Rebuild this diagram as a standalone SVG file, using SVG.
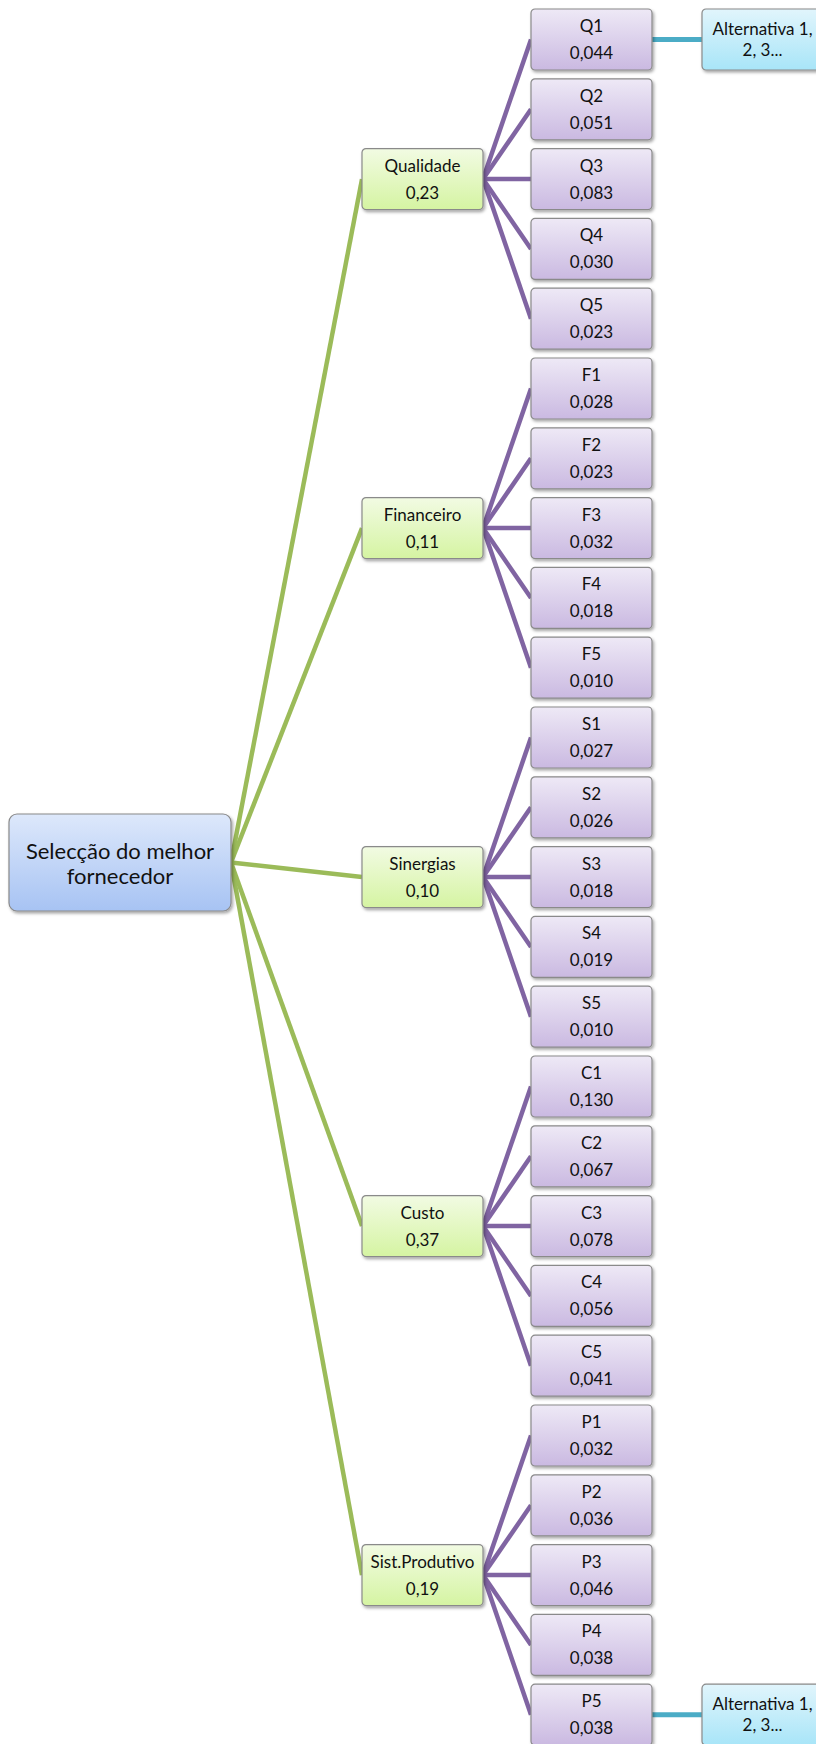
<svg xmlns="http://www.w3.org/2000/svg" width="816" height="1744" viewBox="0 0 816 1744">
<defs>
<linearGradient id="gBlue" x1="0" y1="0" x2="0" y2="1"><stop offset="0" stop-color="#dde8fb"/><stop offset="1" stop-color="#a7c3f3"/></linearGradient>
<linearGradient id="gGreen" x1="0" y1="0" x2="0" y2="1"><stop offset="0" stop-color="#f2fbe3"/><stop offset="1" stop-color="#d5f4a2"/></linearGradient>
<linearGradient id="gPurple" x1="0" y1="0" x2="0" y2="1"><stop offset="0" stop-color="#eee9f6"/><stop offset="1" stop-color="#cab9e1"/></linearGradient>
<linearGradient id="gAqua" x1="0" y1="0" x2="0" y2="1"><stop offset="0" stop-color="#e1f5fc"/><stop offset="1" stop-color="#a8e5f8"/></linearGradient>
<filter id="sh" x="-10%" y="-10%" width="130%" height="140%"><feDropShadow dx="1.5" dy="2" stdDeviation="1.5" flood-color="#000" flood-opacity="0.35"/></filter>
</defs>
<style>
.box{stroke:#8a8a8a;stroke-width:1.2;filter:url(#sh)}
.root{fill:url(#gBlue)}
.grn{fill:url(#gGreen)}
.pur{fill:url(#gPurple)}
.aq{fill:url(#gAqua)}
text{font-family:Lato,"Liberation Sans",sans-serif;fill:#111;text-anchor:middle}
.t{font-size:17px}
.tr{font-size:22px}
.lg{stroke:#9bbb59;stroke-width:4.5;fill:none}
.lp{stroke:#8064a2;stroke-width:4.5;fill:none}
.la{stroke:#4bacc6;stroke-width:5;fill:none}
</style>
<g id="connectors">
<line class="lg" x1="231" y1="862.5" x2="362" y2="179.1"/>
<line class="lg" x1="231" y1="862.5" x2="362" y2="528.1"/>
<line class="lg" x1="231" y1="862.5" x2="362" y2="877.1"/>
<line class="lg" x1="231" y1="862.5" x2="362" y2="1226.1"/>
<line class="lg" x1="231" y1="862.5" x2="362" y2="1575.1"/>
<line class="lp" x1="483" y1="179.1" x2="531" y2="39.5"/>
<line class="lp" x1="483" y1="179.1" x2="531" y2="109.3"/>
<line class="lp" x1="483" y1="179.1" x2="531" y2="179.1"/>
<line class="lp" x1="483" y1="179.1" x2="531" y2="248.9"/>
<line class="lp" x1="483" y1="179.1" x2="531" y2="318.7"/>
<line class="lp" x1="483" y1="528.1" x2="531" y2="388.5"/>
<line class="lp" x1="483" y1="528.1" x2="531" y2="458.3"/>
<line class="lp" x1="483" y1="528.1" x2="531" y2="528.1"/>
<line class="lp" x1="483" y1="528.1" x2="531" y2="597.9"/>
<line class="lp" x1="483" y1="528.1" x2="531" y2="667.7"/>
<line class="lp" x1="483" y1="877.1" x2="531" y2="737.5"/>
<line class="lp" x1="483" y1="877.1" x2="531" y2="807.3"/>
<line class="lp" x1="483" y1="877.1" x2="531" y2="877.1"/>
<line class="lp" x1="483" y1="877.1" x2="531" y2="946.9"/>
<line class="lp" x1="483" y1="877.1" x2="531" y2="1016.7"/>
<line class="lp" x1="483" y1="1226.1" x2="531" y2="1086.5"/>
<line class="lp" x1="483" y1="1226.1" x2="531" y2="1156.3"/>
<line class="lp" x1="483" y1="1226.1" x2="531" y2="1226.1"/>
<line class="lp" x1="483" y1="1226.1" x2="531" y2="1295.9"/>
<line class="lp" x1="483" y1="1226.1" x2="531" y2="1365.7"/>
<line class="lp" x1="483" y1="1575.1" x2="531" y2="1435.5"/>
<line class="lp" x1="483" y1="1575.1" x2="531" y2="1505.3"/>
<line class="lp" x1="483" y1="1575.1" x2="531" y2="1575.1"/>
<line class="lp" x1="483" y1="1575.1" x2="531" y2="1644.9"/>
<line class="lp" x1="483" y1="1575.1" x2="531" y2="1714.7"/>
<line class="la" x1="652" y1="39.5" x2="702" y2="39.5"/>
<line class="la" x1="652" y1="1714.7" x2="702" y2="1714.7"/>
</g>
<g id="root"><rect class="box root" x="9" y="814" width="222" height="97" rx="8"/><text class="tr" x="120" y="859">Selecção do melhor</text><text class="tr" x="120" y="884">fornecedor</text></g>
<g id="qualidade" transform="translate(362,148.6)"><rect class="box grn" width="121" height="61" rx="4"/><text class="t" x="60.5" y="23">Qualidade</text><text class="t" x="60.5" y="50">0,23</text></g>
<g id="financeiro" transform="translate(362,497.6)"><rect class="box grn" width="121" height="61" rx="4"/><text class="t" x="60.5" y="23">Financeiro</text><text class="t" x="60.5" y="50">0,11</text></g>
<g id="sinergias" transform="translate(362,846.6)"><rect class="box grn" width="121" height="61" rx="4"/><text class="t" x="60.5" y="23">Sinergias</text><text class="t" x="60.5" y="50">0,10</text></g>
<g id="custo" transform="translate(362,1195.6)"><rect class="box grn" width="121" height="61" rx="4"/><text class="t" x="60.5" y="23">Custo</text><text class="t" x="60.5" y="50">0,37</text></g>
<g id="sistprodutivo" transform="translate(362,1544.6)"><rect class="box grn" width="121" height="61" rx="4"/><text class="t" x="60.5" y="23">Sist.Produtivo</text><text class="t" x="60.5" y="50">0,19</text></g>
<g id="q1" transform="translate(531,9)"><rect class="box pur" width="121" height="61" rx="4"/><text class="t" x="60.5" y="23">Q1</text><text class="t" x="60.5" y="50">0,044</text></g>
<g id="q2" transform="translate(531,78.8)"><rect class="box pur" width="121" height="61" rx="4"/><text class="t" x="60.5" y="23">Q2</text><text class="t" x="60.5" y="50">0,051</text></g>
<g id="q3" transform="translate(531,148.6)"><rect class="box pur" width="121" height="61" rx="4"/><text class="t" x="60.5" y="23">Q3</text><text class="t" x="60.5" y="50">0,083</text></g>
<g id="q4" transform="translate(531,218.4)"><rect class="box pur" width="121" height="61" rx="4"/><text class="t" x="60.5" y="23">Q4</text><text class="t" x="60.5" y="50">0,030</text></g>
<g id="q5" transform="translate(531,288.2)"><rect class="box pur" width="121" height="61" rx="4"/><text class="t" x="60.5" y="23">Q5</text><text class="t" x="60.5" y="50">0,023</text></g>
<g id="f1" transform="translate(531,358)"><rect class="box pur" width="121" height="61" rx="4"/><text class="t" x="60.5" y="23">F1</text><text class="t" x="60.5" y="50">0,028</text></g>
<g id="f2" transform="translate(531,427.8)"><rect class="box pur" width="121" height="61" rx="4"/><text class="t" x="60.5" y="23">F2</text><text class="t" x="60.5" y="50">0,023</text></g>
<g id="f3" transform="translate(531,497.6)"><rect class="box pur" width="121" height="61" rx="4"/><text class="t" x="60.5" y="23">F3</text><text class="t" x="60.5" y="50">0,032</text></g>
<g id="f4" transform="translate(531,567.4)"><rect class="box pur" width="121" height="61" rx="4"/><text class="t" x="60.5" y="23">F4</text><text class="t" x="60.5" y="50">0,018</text></g>
<g id="f5" transform="translate(531,637.2)"><rect class="box pur" width="121" height="61" rx="4"/><text class="t" x="60.5" y="23">F5</text><text class="t" x="60.5" y="50">0,010</text></g>
<g id="s1" transform="translate(531,707)"><rect class="box pur" width="121" height="61" rx="4"/><text class="t" x="60.5" y="23">S1</text><text class="t" x="60.5" y="50">0,027</text></g>
<g id="s2" transform="translate(531,776.8)"><rect class="box pur" width="121" height="61" rx="4"/><text class="t" x="60.5" y="23">S2</text><text class="t" x="60.5" y="50">0,026</text></g>
<g id="s3" transform="translate(531,846.6)"><rect class="box pur" width="121" height="61" rx="4"/><text class="t" x="60.5" y="23">S3</text><text class="t" x="60.5" y="50">0,018</text></g>
<g id="s4" transform="translate(531,916.4)"><rect class="box pur" width="121" height="61" rx="4"/><text class="t" x="60.5" y="23">S4</text><text class="t" x="60.5" y="50">0,019</text></g>
<g id="s5" transform="translate(531,986.2)"><rect class="box pur" width="121" height="61" rx="4"/><text class="t" x="60.5" y="23">S5</text><text class="t" x="60.5" y="50">0,010</text></g>
<g id="c1" transform="translate(531,1056)"><rect class="box pur" width="121" height="61" rx="4"/><text class="t" x="60.5" y="23">C1</text><text class="t" x="60.5" y="50">0,130</text></g>
<g id="c2" transform="translate(531,1125.8)"><rect class="box pur" width="121" height="61" rx="4"/><text class="t" x="60.5" y="23">C2</text><text class="t" x="60.5" y="50">0,067</text></g>
<g id="c3" transform="translate(531,1195.6)"><rect class="box pur" width="121" height="61" rx="4"/><text class="t" x="60.5" y="23">C3</text><text class="t" x="60.5" y="50">0,078</text></g>
<g id="c4" transform="translate(531,1265.4)"><rect class="box pur" width="121" height="61" rx="4"/><text class="t" x="60.5" y="23">C4</text><text class="t" x="60.5" y="50">0,056</text></g>
<g id="c5" transform="translate(531,1335.2)"><rect class="box pur" width="121" height="61" rx="4"/><text class="t" x="60.5" y="23">C5</text><text class="t" x="60.5" y="50">0,041</text></g>
<g id="p1" transform="translate(531,1405)"><rect class="box pur" width="121" height="61" rx="4"/><text class="t" x="60.5" y="23">P1</text><text class="t" x="60.5" y="50">0,032</text></g>
<g id="p2" transform="translate(531,1474.8)"><rect class="box pur" width="121" height="61" rx="4"/><text class="t" x="60.5" y="23">P2</text><text class="t" x="60.5" y="50">0,036</text></g>
<g id="p3" transform="translate(531,1544.6)"><rect class="box pur" width="121" height="61" rx="4"/><text class="t" x="60.5" y="23">P3</text><text class="t" x="60.5" y="50">0,046</text></g>
<g id="p4" transform="translate(531,1614.4)"><rect class="box pur" width="121" height="61" rx="4"/><text class="t" x="60.5" y="23">P4</text><text class="t" x="60.5" y="50">0,038</text></g>
<g id="p5" transform="translate(531,1684.2)"><rect class="box pur" width="121" height="61" rx="4"/><text class="t" x="60.5" y="23">P5</text><text class="t" x="60.5" y="50">0,038</text></g>
<g id="alt1" transform="translate(702,9)"><rect class="box aq" width="121" height="61" rx="4"/><text class="t" x="60.5" y="26">Alternativa 1,</text><text class="t" x="60.5" y="47">2, 3...</text></g>
<g id="alt2" transform="translate(702,1684.2)"><rect class="box aq" width="121" height="61" rx="4"/><text class="t" x="60.5" y="26">Alternativa 1,</text><text class="t" x="60.5" y="47">2, 3...</text></g>
</svg>
